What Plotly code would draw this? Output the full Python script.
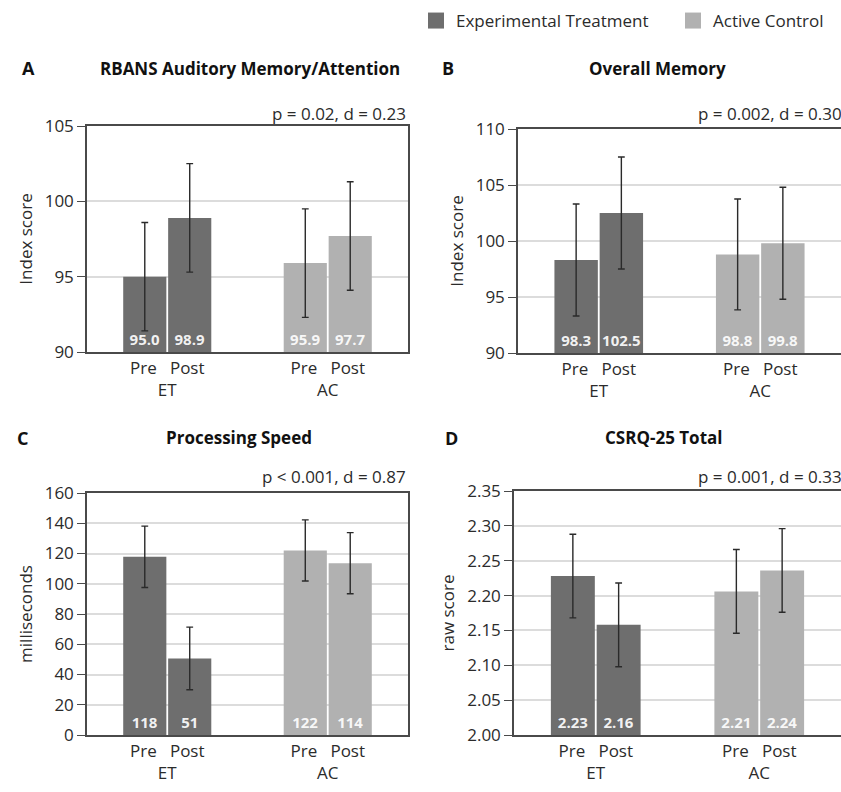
import plotly.graph_objects as go

# ---------------- data ----------------
groups = ["ET", "AC"]
phases = ["Pre", "Post"]
legend_names = ["Experimental Treatment", "Active Control"]

letters = ["A", "B", "C", "D"]
titles = ["RBANS Auditory Memory/Attention", "Overall Memory", "Processing Speed", "CSRQ-25 Total"]
stats = ["p = 0.02, d = 0.23", "p = 0.002, d = 0.30", "p < 0.001, d = 0.87", "p = 0.001, d = 0.33"]
ylabels = ["Index score", "Index score", "milliseconds", "raw score"]

# values per phase, ordered [ET, AC]
rbans_pre = [95.0, 95.9]
rbans_post = [98.9, 97.7]
rbans_err_pre = [3.6, 3.6]
rbans_err_post = [3.6, 3.6]

memory_pre = [98.3, 98.8]
memory_post = [102.5, 99.8]
memory_err_pre = [5.0, 4.95]
memory_err_post = [5.0, 5.0]

speed_pre = [117.8, 122.0]
speed_post = [50.6, 113.6]
speed_err_pre = [20.3, 20.2]
speed_err_post = [20.7, 20.2]

csrq_pre = [2.228, 2.206]
csrq_post = [2.158, 2.236]
csrq_err_pre = [0.060, 0.060]
csrq_err_post = [0.060, 0.060]

y_ranges = [[90, 105], [90, 110], [0, 160], [2.0, 2.35]]
y_dticks = [5, 5, 20, 0.05]
value_formats = [":.1f", ":.1f", ":.0f", ":.2f"]
tick_formats = ["", "", "", ".2f"]

panels = [
    (rbans_pre, rbans_post, rbans_err_pre, rbans_err_post),
    (memory_pre, memory_post, memory_err_pre, memory_err_post),
    (speed_pre, speed_post, speed_err_pre, speed_err_post),
    (csrq_pre, csrq_post, csrq_err_pre, csrq_err_post),
]

# ---------------- style ----------------
W, H = 841, 792
FONT = "Open Sans"
DARK = "#6e6e6e"
LIGHT = "#b1b1b1"
group_colors = [DARK, LIGHT]
AXIS = "#4a4a4a"
TXT = "#2b2b2b"

# plot-area boxes in pixels: (left, right, top, bottom); right panels run off the page edge
boxes = [(87, 408, 126, 352), (518, 841, 129, 353), (87, 408, 493, 735), (514, 841, 491, 735)]
right_frame = [True, False, True, False]
letter_pos = [(28, 68), (448, 68), (22, 438), (452, 438)]
title_pos = [(250, 68), (657, 68), (239, 438), (663, 438)]
stat_y = [113, 114, 476, 476]

def px(x):
    return x / W

def py(y):
    return 1 - y / H

tick_text = [("Pre\u00a0\u00a0\u00a0" + "Post<br>" + g) for g in groups]

fig = go.Figure()
layout = dict(
    width=W, height=H,
    margin=dict(l=0, r=0, t=0, b=0, autoexpand=False),
    paper_bgcolor="white", plot_bgcolor="white",
    barmode="group", bargap=0.44, bargroupgap=0.04,
    font=dict(family=FONT, color=TXT, size=17),
    showlegend=True,
    legend=dict(orientation="h", x=px(416), xanchor="left", y=py(3), yanchor="top",
                font=dict(size=17, color=TXT), traceorder="normal", itemwidth=30,
                entrywidth=212),
    annotations=[],
)

for i, (pre, post, epre, epost) in enumerate(panels):
    n = "" if i == 0 else str(i + 1)
    xa, ya = "x" + n, "y" + n
    yr = y_ranges[i]
    base = yr[0]
    for vals, errs in ((pre, epre), (post, epost)):
        fig.add_trace(go.Bar(
            x=groups, y=[v - base for v in vals], base=base, customdata=vals,
            xaxis=xa, yaxis=ya,
            marker=dict(color=group_colors, line=dict(width=0)),
            error_y=dict(type="data", array=errs, color="#2a2a2a", thickness=1.4, width=3.4),
            texttemplate="%{customdata" + value_formats[i] + "}",
            textposition="inside", insidetextanchor="start",
            textangle=0, constraintext="none",
            textfont=dict(family=FONT, size=15, color="rgba(255,255,255,0.92)", weight="bold"),
            showlegend=False, hoverinfo="skip",
        ))
    l, r, t, b = boxes[i]
    layout["xaxis" + n] = dict(
        domain=[px(l), px(r)], anchor=ya, automargin=False,
        showline=True, linecolor=AXIS, linewidth=1.5, mirror=True,
        showgrid=False, ticks="", tickvals=groups, ticktext=tick_text,
        tickfont=dict(size=17, color=TXT), fixedrange=True,
    )
    layout["yaxis" + n] = dict(
        domain=[py(b), py(t)], anchor=xa, range=yr, dtick=y_dticks[i], tick0=yr[0],
        tickformat=tick_formats[i], automargin=False,
        showline=True, linecolor=AXIS, linewidth=1.5, mirror=right_frame[i],
        showgrid=True, gridcolor="#dcdcdc", gridwidth=1.5, zeroline=False,
        ticks="outside", ticklen=8, tickcolor=AXIS, tickwidth=1.2,
        tickfont=dict(size=17, color=TXT),
        title=dict(text=ylabels[i], font=dict(size=17, color=TXT), standoff=8),
        fixedrange=True,
    )
    lx, ly = letter_pos[i]
    layout["annotations"].append(dict(text="<b>" + letters[i] + "</b>", x=px(lx), y=py(ly),
                                      xref="paper", yref="paper", showarrow=False,
                                      xanchor="center", yanchor="middle",
                                      font=dict(size=18, color="#111")))
    tx, ty = title_pos[i]
    layout["annotations"].append(dict(text="<b>" + titles[i] + "</b>", x=px(tx), y=py(ty),
                                      xref="paper", yref="paper", showarrow=False,
                                      xanchor="center", yanchor="middle",
                                      font=dict(size=17, color="#111")))
    layout["annotations"].append(dict(text=stats[i], x=px(r) if r < W else 1.003, y=py(stat_y[i]),
                                      xref="paper", yref="paper", showarrow=False,
                                      xanchor="right", yanchor="middle",
                                      font=dict(size=17, color=TXT)))

# legend entries
for name, col in zip(legend_names, group_colors):
    fig.add_trace(go.Scatter(x=[None], y=[None], mode="markers", name=name,
                             marker=dict(symbol="square", size=16, color=col),
                             xaxis="x", yaxis="y", hoverinfo="skip"))

fig.update_layout(**layout)
fig.write_html(
    "out.html",
    config={"displayModeBar": False},
    post_script="document.body.style.margin='0';document.body.style.overflow='hidden';",
)
